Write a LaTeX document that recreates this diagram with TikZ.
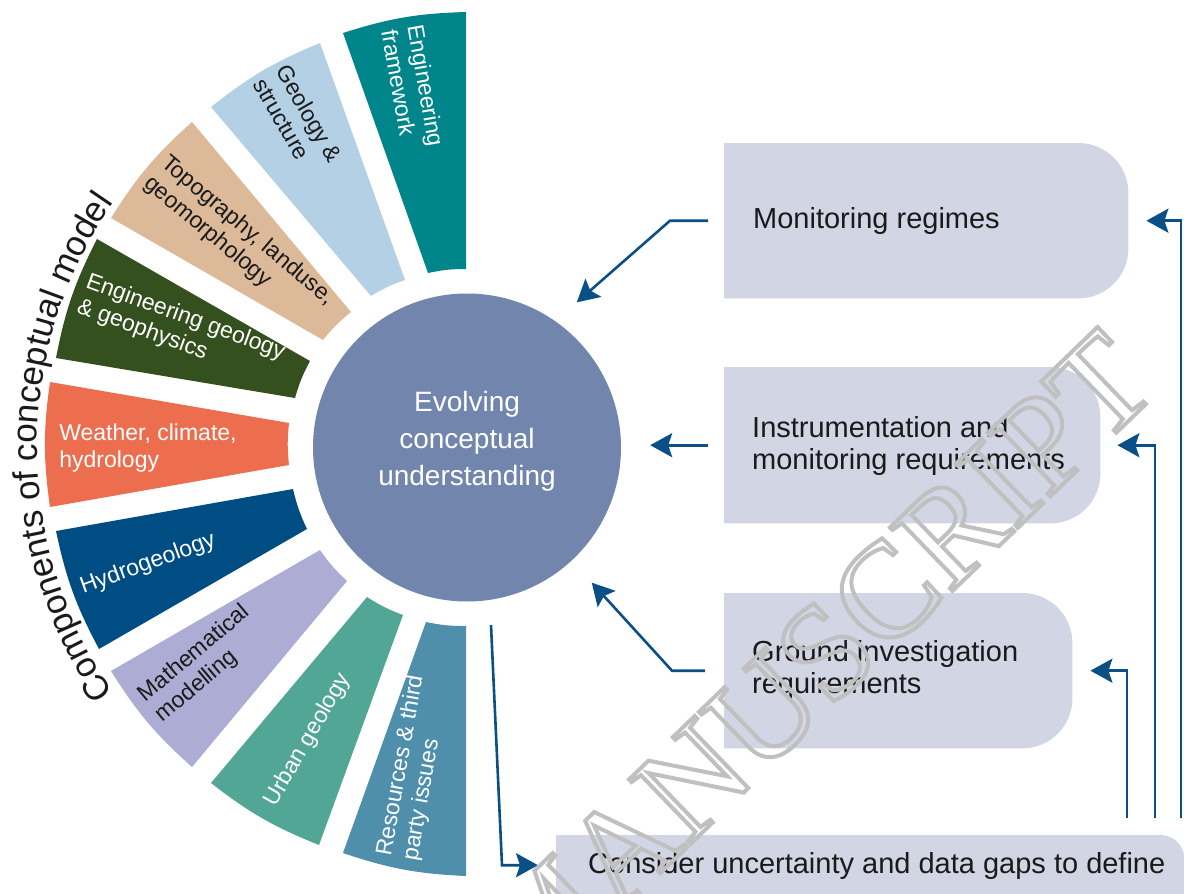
\documentclass[tikz,border=0pt]{standalone}
\usepackage{fontspec}
\setmainfont{Liberation Sans}
\newfontfamily\wmfont{Liberation Serif}
\usetikzlibrary{calc,arrows.meta,decorations.text}

\definecolor{cEF}{RGB}{0,133,139}
\definecolor{cGS}{RGB}{180,208,228}
\definecolor{cTL}{RGB}{220,185,153}
\definecolor{cEG}{RGB}{52,80,30}
\definecolor{cWC}{RGB}{236,110,78}
\definecolor{cHG}{RGB}{0,77,131}
\definecolor{cMM}{RGB}{172,172,212}
\definecolor{cUG}{RGB}{82,166,150}
\definecolor{cRT}{RGB}{79,143,171}
\definecolor{cCore}{RGB}{114,133,173}
\definecolor{cBox}{RGB}{210,213,228}
\definecolor{cArr}{RGB}{10,79,134}
\definecolor{cTxt}{RGB}{26,26,26}
\definecolor{cWM}{RGB}{192,192,192}

\newcommand\fanseg[5]{\fill[#1] #2 to[bend left=8] #3 -- #4 to[bend right=6] #5 -- cycle;}

\begin{document}
\begin{tikzpicture}[x=1pt,y=1pt,
  seglabel/.style={align=left, inner sep=0, font=\fontsize{23}{26.5}\selectfont},
  boxtext/.style={align=left, inner sep=0, anchor=west, text=cTxt, font=\fontsize{29}{32}\selectfont},
  boxnode/.style={inner sep=0, anchor=north west},
  arr/.style={draw=cArr, line width=2.6pt, -{Stealth[length=22pt,width=24pt,inset=4pt]}}]

\useasboundingbox (0,0) rectangle (1184,-894);
\fill[white] (0,0) rectangle (1184,-894);

% fan segments
\fanseg{cEF}{(343,-33)}{(466,-12)}{(466,-269)}{(428,-273)}
\fanseg{cGS}{(211,-107)}{(320,-43)}{(405,-280)}{(371,-296)}
\fanseg{cTL}{(111,-218)}{(192,-122)}{(351,-312)}{(323,-340)}
\fanseg{cEG}{(56,-358)}{(97,-239)}{(310,-361)}{(295,-398)}
\fanseg{cWC}{(50,-507)}{(50,-382)}{(289,-423)}{(289,-465)}
\fanseg{cHG}{(99,-649)}{(56,-531)}{(293,-489)}{(307,-529)}
\fanseg{cMM}{(192,-767)}{(111,-671)}{(320,-550)}{(347,-581)}
\fanseg{cUG}{(319,-845)}{(211,-783)}{(367,-597)}{(403,-615)}
\fanseg{cRT}{(466,-876)}{(343,-853)}{(426,-622)}{(466,-626)}

% segment labels
\node[seglabel, text=white, rotate=-80] (lEF) at (413,-88) {Engineering\\framework};
\node[seglabel, text=cTxt, rotate=-60] (lGS) at (298,-120) {Geology \&\\structure};
\node[seglabel, text=cTxt, rotate=-40] (lTL) at (239,-241) {Topography, landuse,\\geomorphology};
\node[seglabel, text=white, rotate=-20] (lEG) at (181,-330) {Engineering geology\\\& geophysics};
\node[seglabel, text=white] (lWC) at (148,-448) {Weather, climate,\\hydrology};
\node[seglabel, text=white, rotate=20] (lHG) at (148,-564) {Hydrogeology};
\node[seglabel, text=cTxt, rotate=40] (lMM) at (203,-664) {Mathematical\\modelling};
\node[seglabel, text=white, rotate=60] (lUG) at (308,-740) {Urban geology};
\node[seglabel, text=white, rotate=80] (lRT) at (414,-768) {Resources \& third\\party issues};

% core circle
\node[circle, fill=cCore, minimum size=308pt, inner sep=0] (core) at (467,-447.5) {};
\node[text=white, align=center, inner sep=0, font=\fontsize{28}{37}\selectfont] (coretext) at (467,-441.5) {Evolving\\conceptual\\understanding};

% curved title
\path[decorate, decoration={text along path, text align=center, text color=cTxt,
  text={|\fontsize{35}{35}\selectfont|Components of conceptual model}}]
  ($(core.center)+(215:430)$) arc[start angle=215, end angle=145, radius=430];

% boxes
\node[boxnode, minimum width=404pt, minimum height=155pt] (mon) at (724,-143) {};
\node[boxnode, minimum width=376pt, minimum height=156pt] (inst) at (724,-367) {};
\node[boxnode, minimum width=348pt, minimum height=155pt] (gro) at (724,-593) {};
\node[boxnode, minimum width=628pt, minimum height=70pt] (cons) at (556,-835) {};

\fill[cBox] (mon.south west) -- (mon.north west) -- ([xshift=-50]mon.north east)
  arc[start angle=90,end angle=0,radius=50] -- ([yshift=50]mon.south east)
  arc[start angle=0,end angle=-90,radius=50] -- cycle;
\fill[cBox] (inst.south west) -- (inst.north west) -- ([xshift=-50]inst.north east)
  arc[start angle=90,end angle=0,radius=50] -- ([yshift=50]inst.south east)
  arc[start angle=0,end angle=-90,radius=50] -- cycle;
\fill[cBox] (gro.south west) -- (gro.north west) -- ([xshift=-50]gro.north east)
  arc[start angle=90,end angle=0,radius=50] -- ([yshift=50]gro.south east)
  arc[start angle=0,end angle=-90,radius=50] -- cycle;
\fill[cBox] (cons.south west) -- (cons.north west) -- ([xshift=-24]cons.north east)
  arc[start angle=90,end angle=0,radius=24] -- (cons.south east) -- cycle;

\node[boxtext] (tmon) at (753,-220.5) {Monitoring regimes};
\node[boxtext] (tinst) at (752,-446) {Instrumentation and\\monitoring requirements};
\node[boxtext] (tgro) at (752,-670) {Ground investigation\\requirements};
\node[boxtext] (tcons) at (588,-865.5) {Consider uncertainty and data gaps to define};

% connectors
\draw[arr] ([xshift=-16]mon.west) -- ++(-38,0) -- ($(core.center)+(52.9:182)$);
\draw[arr] ([xshift=-16]inst.west) -- ([xshift=29]core.east |- inst.west);
\draw[arr] ([xshift=-19]gro.west) -- ++(-33,0) -- ($(core.center)+(-47.3:184)$);
\coordinate (dstart) at ($(core.south)+(24,-23.5)$);
\draw[arr] (dstart) -- ([xshift=-54,yshift=5]cons.west) -- ([xshift=-18,yshift=5]cons.west);
\coordinate (f1) at (1127,-818);
\coordinate (f2) at (1155,-818);
\coordinate (f3) at (1181,-818);
\draw[arr] (f1) |- ([xshift=18]gro.east);
\draw[arr] (f2) |- ([xshift=17]inst.east);
\draw[arr] (f3) |- ([xshift=18]mon.east);

% watermark
\node[rotate=44, text=cWM, inner sep=0, font=\wmfont\fontsize{136}{136}\selectfont] (wm) at (815,-662)
  {\special{pdf:literal direct 1 Tr 4 w}MANUSCRIPT\special{pdf:literal direct 0 Tr 1 w}};
\end{tikzpicture}
\end{document}
